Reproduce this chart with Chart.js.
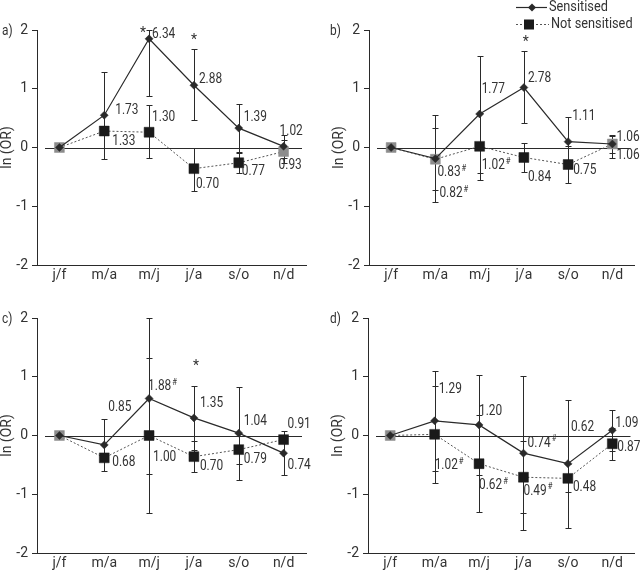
<!DOCTYPE html>
<html>
<head>
<meta charset="utf-8">
<script src="https://cdn.jsdelivr.net/npm/chart.js@4.4.1/dist/chart.umd.min.js"></script>
<style>
  html, body { margin: 0; padding: 0; background: #fff; }
  #wrap { position: relative; width: 642px; height: 572px; }
  #wrap canvas { position: absolute; left: 0; top: 0; }
</style>
</head>
<body>
<div id="wrap">
  <canvas id="chartA" width="642" height="572"></canvas>
  <canvas id="chartB" width="642" height="572"></canvas>
  <canvas id="chartC" width="642" height="572"></canvas>
  <canvas id="chartD" width="642" height="572"></canvas>
</div>
<script>
// months (pairs), ln(OR) values
const categories = ['j/f', 'm/a', 'm/j', 'j/a', 's/o', 'n/d'];
const yTicks = [-2, -1, 0, 1, 2];

// a)
const sensA = [0, 0.55, 1.85, 1.06, 0.33, 0.02];
const notA = [0, 0.28, 0.26, -0.36, -0.26, -0.07];
const sensLoA = [null, -0.19, 0.87, 0.47, -0.07, -0.18];
const sensHiA = [null, 1.29, 2.0, 1.68, 0.74, 0.22];
const notLoA = [null, null, -0.18, -0.74, -0.43, -0.27];
const notHiA = [null, null, 0.72, 0.0, -0.09, 0.13];
const sensLabA = ['', '1.73', '6.34', '2.88', '1.39', '1.02'];
const notLabA = ['', '1.33', '1.30', '0.70', '0.77', '0.93'];

// b)
const sensB = [0, -0.19, 0.57, 1.02, 0.10, 0.06];
const notB = [0, -0.20, 0.02, -0.17, -0.29, 0.06];
const sensLoB = [null, -0.73, -0.43, 0.41, -0.32, -0.10];
const sensHiB = [null, 0.34, 1.56, 1.65, 0.52, 0.22];
const notLoB = [null, -0.93, -0.55, -0.42, -0.61, -0.18];
const notHiB = [null, 0.56, 0.59, 0.07, 0.03, 0.20];
const sensLabB = ['', '0.83#', '1.77', '2.78', '1.11', '1.06'];
const notLabB = ['', '0.82#', '1.02#', '0.84', '0.75', '1.06'];

// c)
const sensC = [0, -0.16, 0.63, 0.30, 0.04, -0.30];
const notC = [0, -0.38, 0, -0.36, -0.24, -0.07];
const sensLoC = [null, -0.60, -0.65, -0.25, -0.75, -0.67];
const sensHiC = [null, 0.28, 2.0, 0.85, 0.83, 0.07];
const notLoC = [null, null, -1.32, -0.62, -0.48, null];
const notHiC = [null, null, 1.32, -0.09, 0.0, null];
const sensLabC = ['', '0.85', '1.88#', '1.35', '1.04', '0.74'];
const notLabC = ['', '0.68', '1.00', '0.70', '0.79', '0.91'];

// d)
const sensD = [0, 0.25, 0.18, -0.30, -0.48, 0.09];
const notD = [0, 0.02, -0.48, -0.71, -0.73, -0.14];
const sensLoD = [null, -0.60, -0.67, -1.61, -1.57, -0.26];
const sensHiD = [null, 1.10, 1.03, 1.01, 0.61, 0.43];
const notLoD = [null, -0.81, -1.31, -1.32, -0.97, -0.41];
const notHiD = [null, 0.85, 0.35, -0.10, -0.49, 0.13];
const sensLabD = ['', '1.29', '1.20', '0.74#', '0.62', '1.09'];
const notLabD = ['', '1.02#', '0.62#', '0.49#', '0.48', '0.87'];

// significance stars (category index)
const starsA = [2, 3];
const starsB = [3];
const starsC = [3];
const starsD = [];

const FONT = "Roboto, 'Liberation Sans', sans-serif";
const INK = '#2a2a2a';
const TXT = '#333';
const SQUEEZE = 0.85; // the original face is narrower than Roboto

// label offsets from the data point, px [dx, dy]
const offsA = {
   sens: [null, [11, -5], [3, -4], [5, -6], [5, -11], [-4, -15]],
   not: [null, [8, 10], [3, -15], [2, 16], [3, 9], [-5, 14]],
   stars: [[-6, -5], [0, -45]]
};
const offsB = {
   sens: [null, [2, 14], [2, -25], [4, -9], [4, -25], [4, -6]],
   not: [null, [4, 34], [2, 19], [4, 20], [5, 6], [4, 12]],
   stars: [[2, -45]]
};
const offsC = {
   sens: [null, [4, -37], [-1, -12], [6, -14], [5, -12], [4, 12]],
   not: [null, [8, 5], [4, 22], [6, 10], [5, 10], [4, -15]],
   stars: [[2, -51]]
};
const offsD = {
   sens: [null, [4, -31], [0, -13], [4, -10], [3, -36], [3, -7]],
   not: [null, [0, 31], [0, 22], [0, 14], [5, 9], [5, 4]],
   stars: []
};

// narrow text drawn left-aligned at x, centred on y
function narrowText(ctx, text, x, y, size) {
   ctx.save();
   ctx.translate(x, y);
   ctx.scale(SQUEEZE, 1);
   ctx.font = `${size}px ${FONT}`;
   ctx.textAlign = 'left';
   ctx.textBaseline = 'middle';
   ctx.fillText(text, 0, 0);
   const w = ctx.measureText(text).width * SQUEEZE;
   ctx.restore();
   return w;
}

function drawLabel(ctx, text, x, y) {
   let sup = '';
   if (text.endsWith('#')) {
      sup = '#';
      text = text.slice(0, -1);
   }
   const w = narrowText(ctx, text, x, y, 14);
   if (sup) narrowText(ctx, sup, x + w + 1, y - 4, 9);
}

const legendPlugin = {
   id: 'seriesLegend',
   afterDraw(chart) {
      const { ctx } = chart;
      ctx.save();
      ctx.strokeStyle = INK;
      ctx.fillStyle = INK;
      ctx.lineWidth = 1.2;
      ctx.beginPath(); ctx.moveTo(516, 7.5); ctx.lineTo(547, 7.5); ctx.stroke();
      ctx.beginPath();
      ctx.moveTo(532, 3.5); ctx.lineTo(536, 7.5); ctx.lineTo(532, 11.5); ctx.lineTo(528, 7.5);
      ctx.closePath(); ctx.fill();
      ctx.strokeStyle = '#555';
      ctx.lineWidth = 1;
      ctx.setLineDash([2, 2]);
      ctx.beginPath(); ctx.moveTo(516, 24.5); ctx.lineTo(549, 24.5); ctx.stroke();
      ctx.setLineDash([]);
      ctx.fillStyle = '#1a1a1a';
      ctx.fillRect(524, 19.5, 10, 10);
      ctx.fillStyle = TXT;
      narrowText(ctx, 'Sensitised', 549, 7, 15);
      narrowText(ctx, 'Not sensitised', 551, 24, 15);
      ctx.restore();
   }
};

function makePanel(id, p) {
   const ctx = document.getElementById(id).getContext('2d');

   // where both series sit on the same spot the square shows up grey behind the diamond
   const squareColors = p.not.map((v, i) => Math.abs(v - p.sens[i]) < 0.1 ? '#8c8c8c' : '#1a1a1a');

   const extras = {
      id: 'extras_' + id,
      beforeDatasetsDraw(chart) {
         const { ctx, chartArea, scales: { x, y } } = chart;
         ctx.save();
         ctx.strokeStyle = INK;
         ctx.lineWidth = 1;
         const y0 = Math.round(y.getPixelForValue(0)) + 0.5;
         ctx.beginPath();
         ctx.moveTo(chartArea.left + 8, y0);
         ctx.lineTo(chartArea.right - 4, y0);
         ctx.stroke();
         p.bars.forEach(([lo, hi]) => {
            lo.forEach((v, i) => {
               if (v === null || hi[i] === null) return;
               const px = Math.round(x.getPixelForValue(i)) + 0.5;
               const yl = Math.round(y.getPixelForValue(v)) + 0.5;
               const yh = Math.round(y.getPixelForValue(hi[i])) + 0.5;
               ctx.beginPath();
               ctx.moveTo(px, yl); ctx.lineTo(px, yh);
               ctx.moveTo(px - 3, yl); ctx.lineTo(px + 3, yl);
               ctx.moveTo(px - 3, yh); ctx.lineTo(px + 3, yh);
               ctx.stroke();
            });
         });
         ctx.restore();
      },
      afterDatasetsDraw(chart) {
         const { ctx } = chart;
         ctx.save();
         ctx.fillStyle = TXT;
         [[0, p.sensLab, p.offs.sens], [1, p.notLab, p.offs.not]].forEach(([ds, labs, offs]) => {
            const pts = chart.getDatasetMeta(ds).data;
            labs.forEach((t, i) => {
               if (!t) return;
               drawLabel(ctx, t, pts[i].x + offs[i][0], pts[i].y + offs[i][1]);
            });
         });
         const pts = chart.getDatasetMeta(0).data;
         p.stars.forEach((i, k) => {
            ctx.font = `14px ${FONT}`;
            ctx.textAlign = 'center';
            ctx.textBaseline = 'middle';
            ctx.fillText('*', pts[i].x + p.offs.stars[k][0], pts[i].y + p.offs.stars[k][1]);
         });
         // panel letter
         narrowText(ctx, p.tag, p.tagX, p.pad.top + 1, 14);
         ctx.restore();
      }
   };

   const plugins = [extras];
   if (p.legend) plugins.push(legendPlugin);

   return new Chart(ctx, {
      type: 'line',
      data: {
         labels: categories,
         datasets: [{
            label: 'Sensitised',
            data: p.sens,
            borderColor: INK,
            borderWidth: 1.2,
            pointStyle: 'rectRot',
            pointRadius: 4,
            pointBackgroundColor: INK,
            pointBorderColor: INK,
            pointBorderWidth: 0.5
         }, {
            label: 'Not sensitised',
            data: p.not,
            borderColor: '#555',
            borderWidth: 1,
            borderDash: [2, 2],
            pointStyle: 'rect',
            pointRadius: 7,
            pointBackgroundColor: squareColors,
            pointBorderColor: squareColors,
            pointBorderWidth: 0.5
         }]
      },
      options: {
         responsive: false,
         animation: false,
         events: [],
         layout: {
            padding: { left: p.pad.left, right: 642 - p.pad.right, top: p.pad.top, bottom: 572 - p.pad.bottom - 19 }
         },
         plugins: {
            legend: { display: false },
            tooltip: { enabled: false }
         },
         scales: {
            x: {
               type: 'category',
               offset: true,
               grid: { display: false, drawTicks: false, tickLength: 0 },
               border: { display: true, color: INK, width: 1 },
               ticks: { color: TXT, padding: 2, font: { family: FONT, size: 14 } },
               afterFit: (s) => { s.height = 19; }
            },
            y: {
               min: yTicks[0],
               max: yTicks[yTicks.length - 1],
               ticks: { stepSize: 1, color: TXT, padding: 4, font: { family: FONT, size: 14 } },
               grid: { drawOnChartArea: false, drawTicks: true, tickLength: 5, color: INK },
               border: { display: true, color: INK, width: 1 },
               title: {
                  display: true,
                  text: 'ln (OR)',
                  color: TXT,
                  padding: 0,
                  font: { family: FONT, size: 14, lineHeight: 1 }
               },
               afterFit: (s) => { s.width = 37; }
            }
         }
      },
      plugins: plugins
   });
}

makePanel('chartA', {
   tag: 'a)', tagX: 2, pad: { left: 0, right: 306, top: 30, bottom: 265 },
   sens: sensA, not: notA, bars: [[sensLoA, sensHiA], [notLoA, notHiA]],
   sensLab: sensLabA, notLab: notLabA, stars: starsA, offs: offsA
});
makePanel('chartB', {
   tag: 'b)', tagX: 330, pad: { left: 332, right: 635, top: 30, bottom: 265 }, legend: true,
   sens: sensB, not: notB, bars: [[sensLoB, sensHiB], [notLoB, notHiB]],
   sensLab: sensLabB, notLab: notLabB, stars: starsB, offs: offsB
});
makePanel('chartC', {
   tag: 'c)', tagX: 2, pad: { left: 0, right: 306, top: 318, bottom: 553 },
   sens: sensC, not: notC, bars: [[sensLoC, sensHiC], [notLoC, notHiC]],
   sensLab: sensLabC, notLab: notLabC, stars: starsC, offs: offsC
});
makePanel('chartD', {
   tag: 'd)', tagX: 330, pad: { left: 331, right: 635, top: 318, bottom: 553 },
   sens: sensD, not: notD, bars: [[sensLoD, sensHiD], [notLoD, notHiD]],
   sensLab: sensLabD, notLab: notLabD, stars: starsD, offs: offsD
});
</script>
</body>
</html>
